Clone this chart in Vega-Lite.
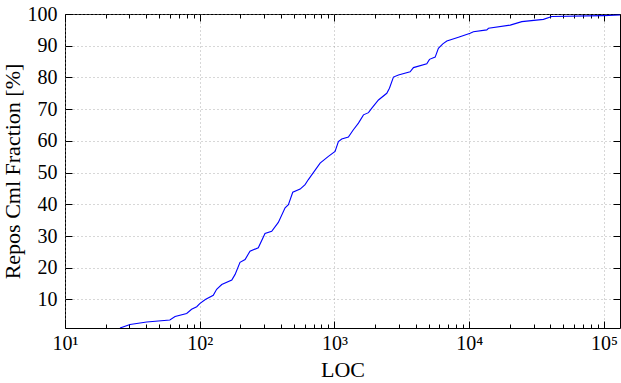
{
  "$schema": "https://vega.github.io/schema/vega-lite/v6.json",
  "width": 555,
  "height": 314,
  "autosize": {"type": "none"},
  "padding": {"left": 65, "top": 14, "right": 1, "bottom": 55},
  "config": {
    "view": {"stroke": "black", "strokeWidth": 1},
    "font": "Liberation Serif",
    "axis": {
      "labelFont": "Liberation Serif",
      "titleFont": "Liberation Serif",
      "labelFontSize": 20,
      "titleFontSize": 22,
      "titleFontWeight": "normal",
      "labelColor": "black",
      "titleColor": "black",
      "tickColor": "black",
      "domain": false,
      "gridColor": "#999999",
      "gridDash": [1, 3],
      "gridWidth": 0.8
    }
  },
  "data": {
    "values": [
      {"loc": 25.6, "frac": 1.0},
      {"loc": 30.4, "frac": 2.1},
      {"loc": 40.4, "frac": 2.9},
      {"loc": 60.0, "frac": 3.5},
      {"loc": 65.6, "frac": 4.6},
      {"loc": 80, "frac": 5.6},
      {"loc": 87, "frac": 6.9},
      {"loc": 95, "frac": 7.7},
      {"loc": 100, "frac": 8.7},
      {"loc": 110, "frac": 10.0},
      {"loc": 126, "frac": 11.3},
      {"loc": 133.5, "frac": 13.2},
      {"loc": 145.6, "frac": 14.7},
      {"loc": 172.9, "frac": 16.1},
      {"loc": 183, "frac": 17.9},
      {"loc": 199, "frac": 21.7},
      {"loc": 217, "frac": 22.6},
      {"loc": 236, "frac": 25.2},
      {"loc": 272, "frac": 26.3},
      {"loc": 305, "frac": 30.8},
      {"loc": 342, "frac": 31.5},
      {"loc": 383, "frac": 34.3},
      {"loc": 430, "frac": 38.9},
      {"loc": 455, "frac": 39.9},
      {"loc": 490, "frac": 43.8},
      {"loc": 556, "frac": 44.8},
      {"loc": 605, "frac": 46.2},
      {"loc": 640, "frac": 47.8},
      {"loc": 782, "frac": 53.0},
      {"loc": 901, "frac": 55.1},
      {"loc": 1010, "frac": 56.7},
      {"loc": 1069, "frac": 59.8},
      {"loc": 1132, "frac": 60.6},
      {"loc": 1268, "frac": 61.2},
      {"loc": 1381, "frac": 63.5},
      {"loc": 1506, "frac": 65.6},
      {"loc": 1641, "frac": 68.2},
      {"loc": 1788, "frac": 68.9},
      {"loc": 1893, "frac": 70.3},
      {"loc": 2120, "frac": 72.9},
      {"loc": 2444, "frac": 75.0},
      {"loc": 2558, "frac": 76.6},
      {"loc": 2738, "frac": 80.1},
      {"loc": 2983, "frac": 80.8},
      {"loc": 3641, "frac": 81.8},
      {"loc": 3855, "frac": 83.1},
      {"loc": 4842, "frac": 84.3},
      {"loc": 5070, "frac": 85.7},
      {"loc": 5588, "frac": 86.4},
      {"loc": 5904, "frac": 89.2},
      {"loc": 6368, "frac": 90.6},
      {"loc": 6820, "frac": 91.5},
      {"loc": 8320, "frac": 92.7},
      {"loc": 10160, "frac": 93.9},
      {"loc": 10740, "frac": 94.4},
      {"loc": 13500, "frac": 95.0},
      {"loc": 13900, "frac": 95.5},
      {"loc": 20150, "frac": 96.5},
      {"loc": 24560, "frac": 97.6},
      {"loc": 35560, "frac": 98.3},
      {"loc": 41000, "frac": 99.2},
      {"loc": 99100, "frac": 99.5},
      {"loc": 131500, "frac": 99.7}
    ]
  },
  "layer": [
    {
      "mark": {"type": "line", "color": "#0000ff", "strokeWidth": 1.1, "clip": true},
      "encoding": {
        "x": {
          "field": "loc", "type": "quantitative",
          "scale": {"type": "log", "domain": [10, 131500]},
          "axis": {
            "orient": "bottom", "title": "LOC",
            "values": [10, 100, 1000, 10000, 100000],
            "labelExpr": "'10' + ['⁰','¹','²','³','⁴','⁵'][round(log(datum.value)/LN10)]",
            "grid": true, "tickSize": -7, "labelPadding": 12, "titlePadding": 6,
            "labelFlush": false, "labelOverlap": false
          }
        },
        "y": {
          "field": "frac", "type": "quantitative",
          "scale": {"domain": [1, 100], "nice": false, "zero": false},
          "axis": {
            "orient": "left", "title": "Repos Cml Fraction [%]",
            "values": [10, 20, 30, 40, 50, 60, 70, 80, 90, 100],
            "grid": true, "tickSize": -7, "labelPadding": 15, "titlePadding": 3,
            "labelFlush": false, "labelOverlap": false
          }
        }
      }
    },
    {
      "mark": {"type": "line", "strokeOpacity": 0},
      "encoding": {
        "x": {
          "field": "loc", "type": "quantitative",
          "scale": {"type": "log", "domain": [10, 131500]},
          "axis": {
            "orient": "bottom", "title": null, "labels": false, "grid": false, "tickSize": -4,
            "values": [20,30,40,50,60,70,80,90,200,300,400,500,600,700,800,900,2000,3000,4000,5000,6000,7000,8000,9000,20000,30000,40000,50000,60000,70000,80000,90000]
          }
        },
        "y": {
          "field": "frac", "type": "quantitative",
          "scale": {"domain": [1, 100], "nice": false, "zero": false},
          "axis": {
            "orient": "right", "title": null, "labels": false, "grid": false, "tickSize": -7,
            "values": [10, 20, 30, 40, 50, 60, 70, 80, 90, 100]
          }
        }
      }
    },
    {
      "mark": {"type": "line", "strokeOpacity": 0},
      "encoding": {
        "x": {
          "field": "loc", "type": "quantitative",
          "scale": {"type": "log", "domain": [10, 131500]},
          "axis": {
            "orient": "top", "title": null, "labels": false, "grid": false, "tickSize": -7,
            "values": [10, 100, 1000, 10000, 100000]
          }
        },
        "y": {
          "field": "frac", "type": "quantitative",
          "scale": {"domain": [1, 100], "nice": false, "zero": false},
          "axis": null
        }
      }
    },
    {
      "mark": {"type": "line", "strokeOpacity": 0},
      "encoding": {
        "x": {
          "field": "loc", "type": "quantitative",
          "scale": {"type": "log", "domain": [10, 131500]},
          "axis": {
            "orient": "top", "title": null, "labels": false, "grid": false, "tickSize": -4,
            "values": [20,30,40,50,60,70,80,90,200,300,400,500,600,700,800,900,2000,3000,4000,5000,6000,7000,8000,9000,20000,30000,40000,50000,60000,70000,80000,90000]
          }
        },
        "y": {
          "field": "frac", "type": "quantitative",
          "scale": {"domain": [1, 100], "nice": false, "zero": false},
          "axis": null
        }
      }
    }
  ],
  "resolve": {"axis": {"x": "independent", "y": "independent"}}
}
